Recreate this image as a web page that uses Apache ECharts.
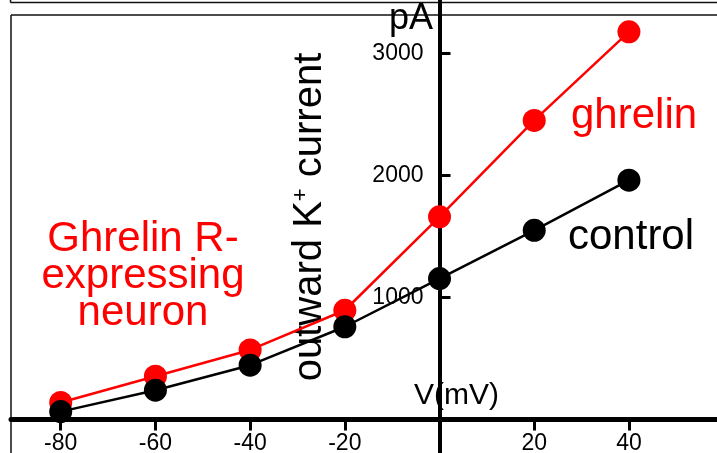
<!DOCTYPE html>
<html>
<head>
<meta charset="utf-8">
<script src="https://cdn.jsdelivr.net/npm/echarts@6/dist/echarts.min.js"></script>
<style>
html,body{margin:0;padding:0;background:#fff;}
#chart{width:717px;height:453px;}
</style>
</head>
<body>
<div id="chart"></div>
<script>
// membrane voltage (mV) and outward K+ current (pA)
let voltage = [-80, -60, -40, -20, 0, 20, 40];
let controlCurrent = [65, 240, 445, 760, 1155, 1550, 1960];
let ghrelinCurrent = [140, 355, 570, 895, 1660, 2450, 3175];
let xTicks = [-80, -60, -40, -20, 20, 40];
let yTicks = [1000, 2000, 3000];

let font = 'Liberation Sans, Arial, sans-serif';

function pairs(xs, ys){
    return xs.map((x, i) => [x, ys[i]]);
}

let el = document.getElementById('chart');
let myChart = echarts.init(el);

// axes cross at (0,0): x axis sits 33.5px above the bottom, y axis 428.5px right of grid left
let option = {
    animation: false,
    backgroundColor: '#fff',
    grid: {left: 11, right: 0, top: 0, bottom: 0, containLabel: false, outerBoundsMode: 'none'},
    xAxis: {
        type: 'value',
        min: -90.5,
        max: 58.6,
        position: 'bottom',
        offset: -33.5,
        axisLine: {onZero: false, lineStyle: {color: '#000', width: 5}},
        axisTick: {customValues: xTicks, length: 11, lineStyle: {color: '#000', width: 3}},
        axisLabel: {
            customValues: xTicks, margin: 13, color: '#000', fontSize: 23, fontFamily: font,
            formatter: (v) => String(v)
        },
        splitLine: {show: false}
    },
    yAxis: {
        type: 'value',
        min: -274,
        max: 3436,
        position: 'left',
        offset: -428.5,
        axisLine: {onZero: false, lineStyle: {color: '#000', width: 4}},
        axisTick: {customValues: yTicks, inside: true, length: 11, lineStyle: {color: '#000', width: 3}},
        axisLabel: {
            customValues: yTicks, margin: 16, color: '#000', fontSize: 23, fontFamily: font,
            formatter: (v) => String(v)
        },
        splitLine: {show: false}
    },
    series: [
        {
            name: 'ghrelin',
            type: 'line',
            data: pairs(voltage, ghrelinCurrent),
            symbol: 'circle',
            symbolSize: 23,
            itemStyle: {color: '#ff0000'},
            lineStyle: {color: '#ff0000', width: 2.5},
            z: 3
        },
        {
            name: 'control',
            type: 'line',
            data: pairs(voltage, controlCurrent),
            symbol: 'circle',
            symbolSize: 23,
            itemStyle: {color: '#000'},
            lineStyle: {color: '#000', width: 2.5},
            z: 4
        }
    ],
    graphic: [
        // frame lines of the panel
        {type: 'line', shape: {x1: 10.5, y1: 2.5, x2: 717, y2: 2.5}, style: {stroke: '#111', lineWidth: 1.5}},
        {type: 'line', shape: {x1: 10.5, y1: 0, x2: 10.5, y2: 2.5}, style: {stroke: '#111', lineWidth: 1.5}},
        {type: 'line', shape: {x1: 11, y1: 15, x2: 717, y2: 15}, style: {stroke: '#111', lineWidth: 1.5}},
        {type: 'line', shape: {x1: 11, y1: 15, x2: 11, y2: 453}, style: {stroke: '#111', lineWidth: 1.5}},
        {
            type: 'text', x: 433, y: 19,
            style: {text: 'pA', fill: '#000', font: '36px ' + font, textAlign: 'right', textVerticalAlign: 'middle'}
        },
        {
            type: 'text', x: 414, y: 396,
            style: {text: 'V(mV)', fill: '#000', font: '30px ' + font, textAlign: 'left', textVerticalAlign: 'middle'}
        },
        {
            type: 'text', x: 310, y: 217, rotation: Math.PI / 2,
            style: {
                text: '{a|outward K}{s|+}{a| current}',
                textAlign: 'center', textVerticalAlign: 'middle',
                rich: {
                    a: {fontSize: 40, fontFamily: font, fill: '#000', lineHeight: 40},
                    s: {fontSize: 22, fontFamily: font, fill: '#000', verticalAlign: 'top'}
                }
            }
        },
        {
            type: 'text', x: 571, y: 116,
            style: {text: 'ghrelin', fill: '#ff0000', font: '42px ' + font, textAlign: 'left', textVerticalAlign: 'middle'}
        },
        {
            type: 'text', x: 568, y: 237,
            style: {text: 'control', fill: '#000', font: '42px ' + font, textAlign: 'left', textVerticalAlign: 'middle'}
        },
        {
            type: 'text', x: 143, y: 276,
            style: {
                text: 'Ghrelin R-\nexpressing\nneuron', fill: '#ff0000', font: '42px ' + font,
                lineHeight: 37, textAlign: 'center', textVerticalAlign: 'middle'
            }
        }
    ]
};

myChart.setOption(option);
</script>
</body>
</html>
